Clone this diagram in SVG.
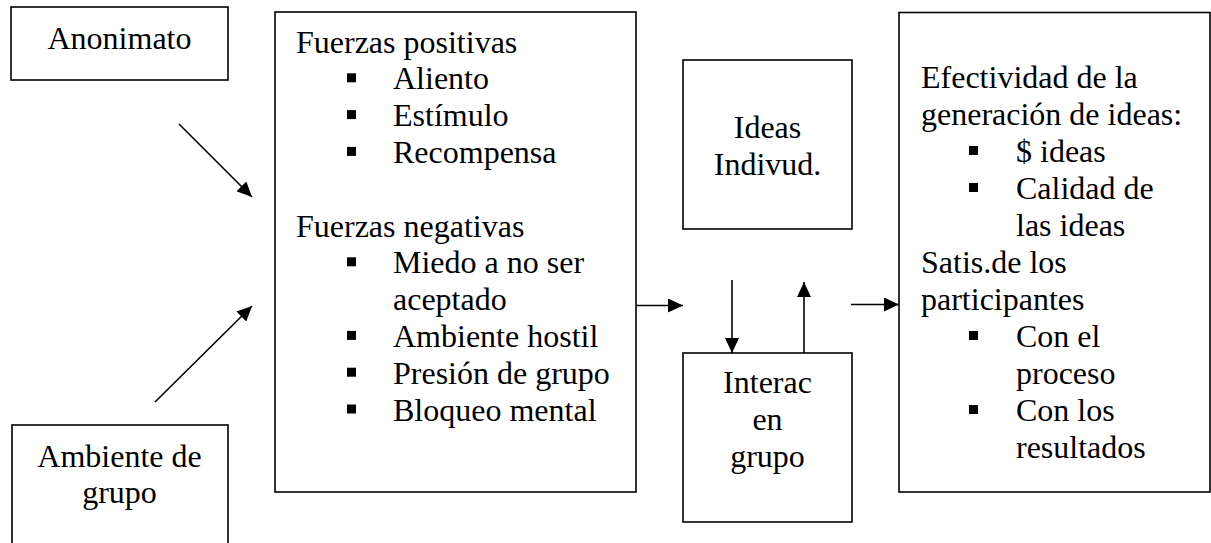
<svg xmlns="http://www.w3.org/2000/svg" width="1211" height="543" viewBox="0 0 1211 543">
<style>
.box{fill:#fff;stroke:#000;stroke-width:1.6}
text{font-family:'Liberation Serif','Times New Roman',serif;font-size:32px;fill:#000}
.c{text-anchor:middle}
.b{fill:#000}
.con{stroke:#000;stroke-width:1.6;fill:none}
</style>
<defs>
<marker id="ah" markerUnits="userSpaceOnUse" markerWidth="16" markerHeight="14" refX="15" refY="7" orient="auto">
<path d="M0,0 L15,7 L0,14 z" fill="#000"/>
</marker>
</defs>
<rect width="1211" height="543" fill="#fff"/>
<g id="anonimato">
<rect class="box" x="11" y="7" width="217" height="73"/>
<text class="c" x="119.5" y="48.5">Anonimato</text>
</g>
<g id="ambiente">
<rect class="box" x="12" y="425" width="216" height="130"/>
<text class="c" x="119.5" y="467">Ambiente de</text>
<text class="c" x="119.5" y="503">grupo</text>
</g>
<g id="fuerzas">
<rect class="box" x="275" y="12" width="361" height="480"/>
<text x="296" y="52.5">Fuerzas positivas</text>
<rect class="b" x="347" y="73.3" width="9" height="9"/>
<text x="393" y="89.3">Aliento</text>
<rect class="b" x="347" y="110.1" width="9" height="9"/>
<text x="393" y="126.1">Estímulo</text>
<rect class="b" x="347" y="146.9" width="9" height="9"/>
<text x="393" y="162.9">Recompensa</text>
<text x="296" y="236.5">Fuerzas negativas</text>
<rect class="b" x="347" y="257.3" width="9" height="9"/>
<text x="393" y="273.3">Miedo a no ser</text>
<text x="393" y="310.1">aceptado</text>
<rect class="b" x="347" y="330.9" width="9" height="9"/>
<text x="393" y="346.9">Ambiente hostil</text>
<rect class="b" x="347" y="367.7" width="9" height="9"/>
<text x="393" y="383.7">Presión de grupo</text>
<rect class="b" x="347" y="404.5" width="9" height="9"/>
<text x="393" y="420.5">Bloqueo mental</text>
</g>
<g id="ideas">
<rect class="box" x="683" y="60" width="169" height="169"/>
<text class="c" x="767.5" y="137.5">Ideas</text>
<text class="c" x="767.5" y="175">Indivud.</text>
</g>
<g id="interac">
<rect class="box" x="683" y="353" width="169" height="169"/>
<text class="c" x="767.5" y="393">Interac</text>
<text class="c" x="767.5" y="430">en</text>
<text class="c" x="767.5" y="467">grupo</text>
</g>
<g id="efectividad">
<rect class="box" x="899" y="12.5" width="311" height="479.5"/>
<text x="921" y="88">Efectividad de la</text>
<text x="921" y="125">generación de ideas:</text>
<rect class="b" x="969" y="146" width="9" height="9"/>
<text x="1016" y="162">$ ideas</text>
<rect class="b" x="969" y="183" width="9" height="9"/>
<text x="1016" y="199">Calidad de</text>
<text x="1016" y="236">las ideas</text>
<text x="921" y="273">Satis.de los</text>
<text x="921" y="310">participantes</text>
<rect class="b" x="969" y="331" width="9" height="9"/>
<text x="1016" y="347">Con el</text>
<text x="1016" y="384">proceso</text>
<rect class="b" x="969" y="405" width="9" height="9"/>
<text x="1016" y="421">Con los</text>
<text x="1016" y="458">resultados</text>
</g>
<g id="connectors">
<line class="con" x1="179" y1="124" x2="252" y2="197" marker-end="url(#ah)"/>
<line class="con" x1="155" y1="402" x2="252" y2="306" marker-end="url(#ah)"/>
<line class="con" x1="636" y1="305.5" x2="683" y2="305.5" marker-end="url(#ah)"/>
<line class="con" x1="732" y1="280" x2="732" y2="353" marker-end="url(#ah)"/>
<line class="con" x1="804" y1="353" x2="804" y2="282" marker-end="url(#ah)"/>
<line class="con" x1="851" y1="304.5" x2="899" y2="304.5" marker-end="url(#ah)"/>
</g>
</svg>
